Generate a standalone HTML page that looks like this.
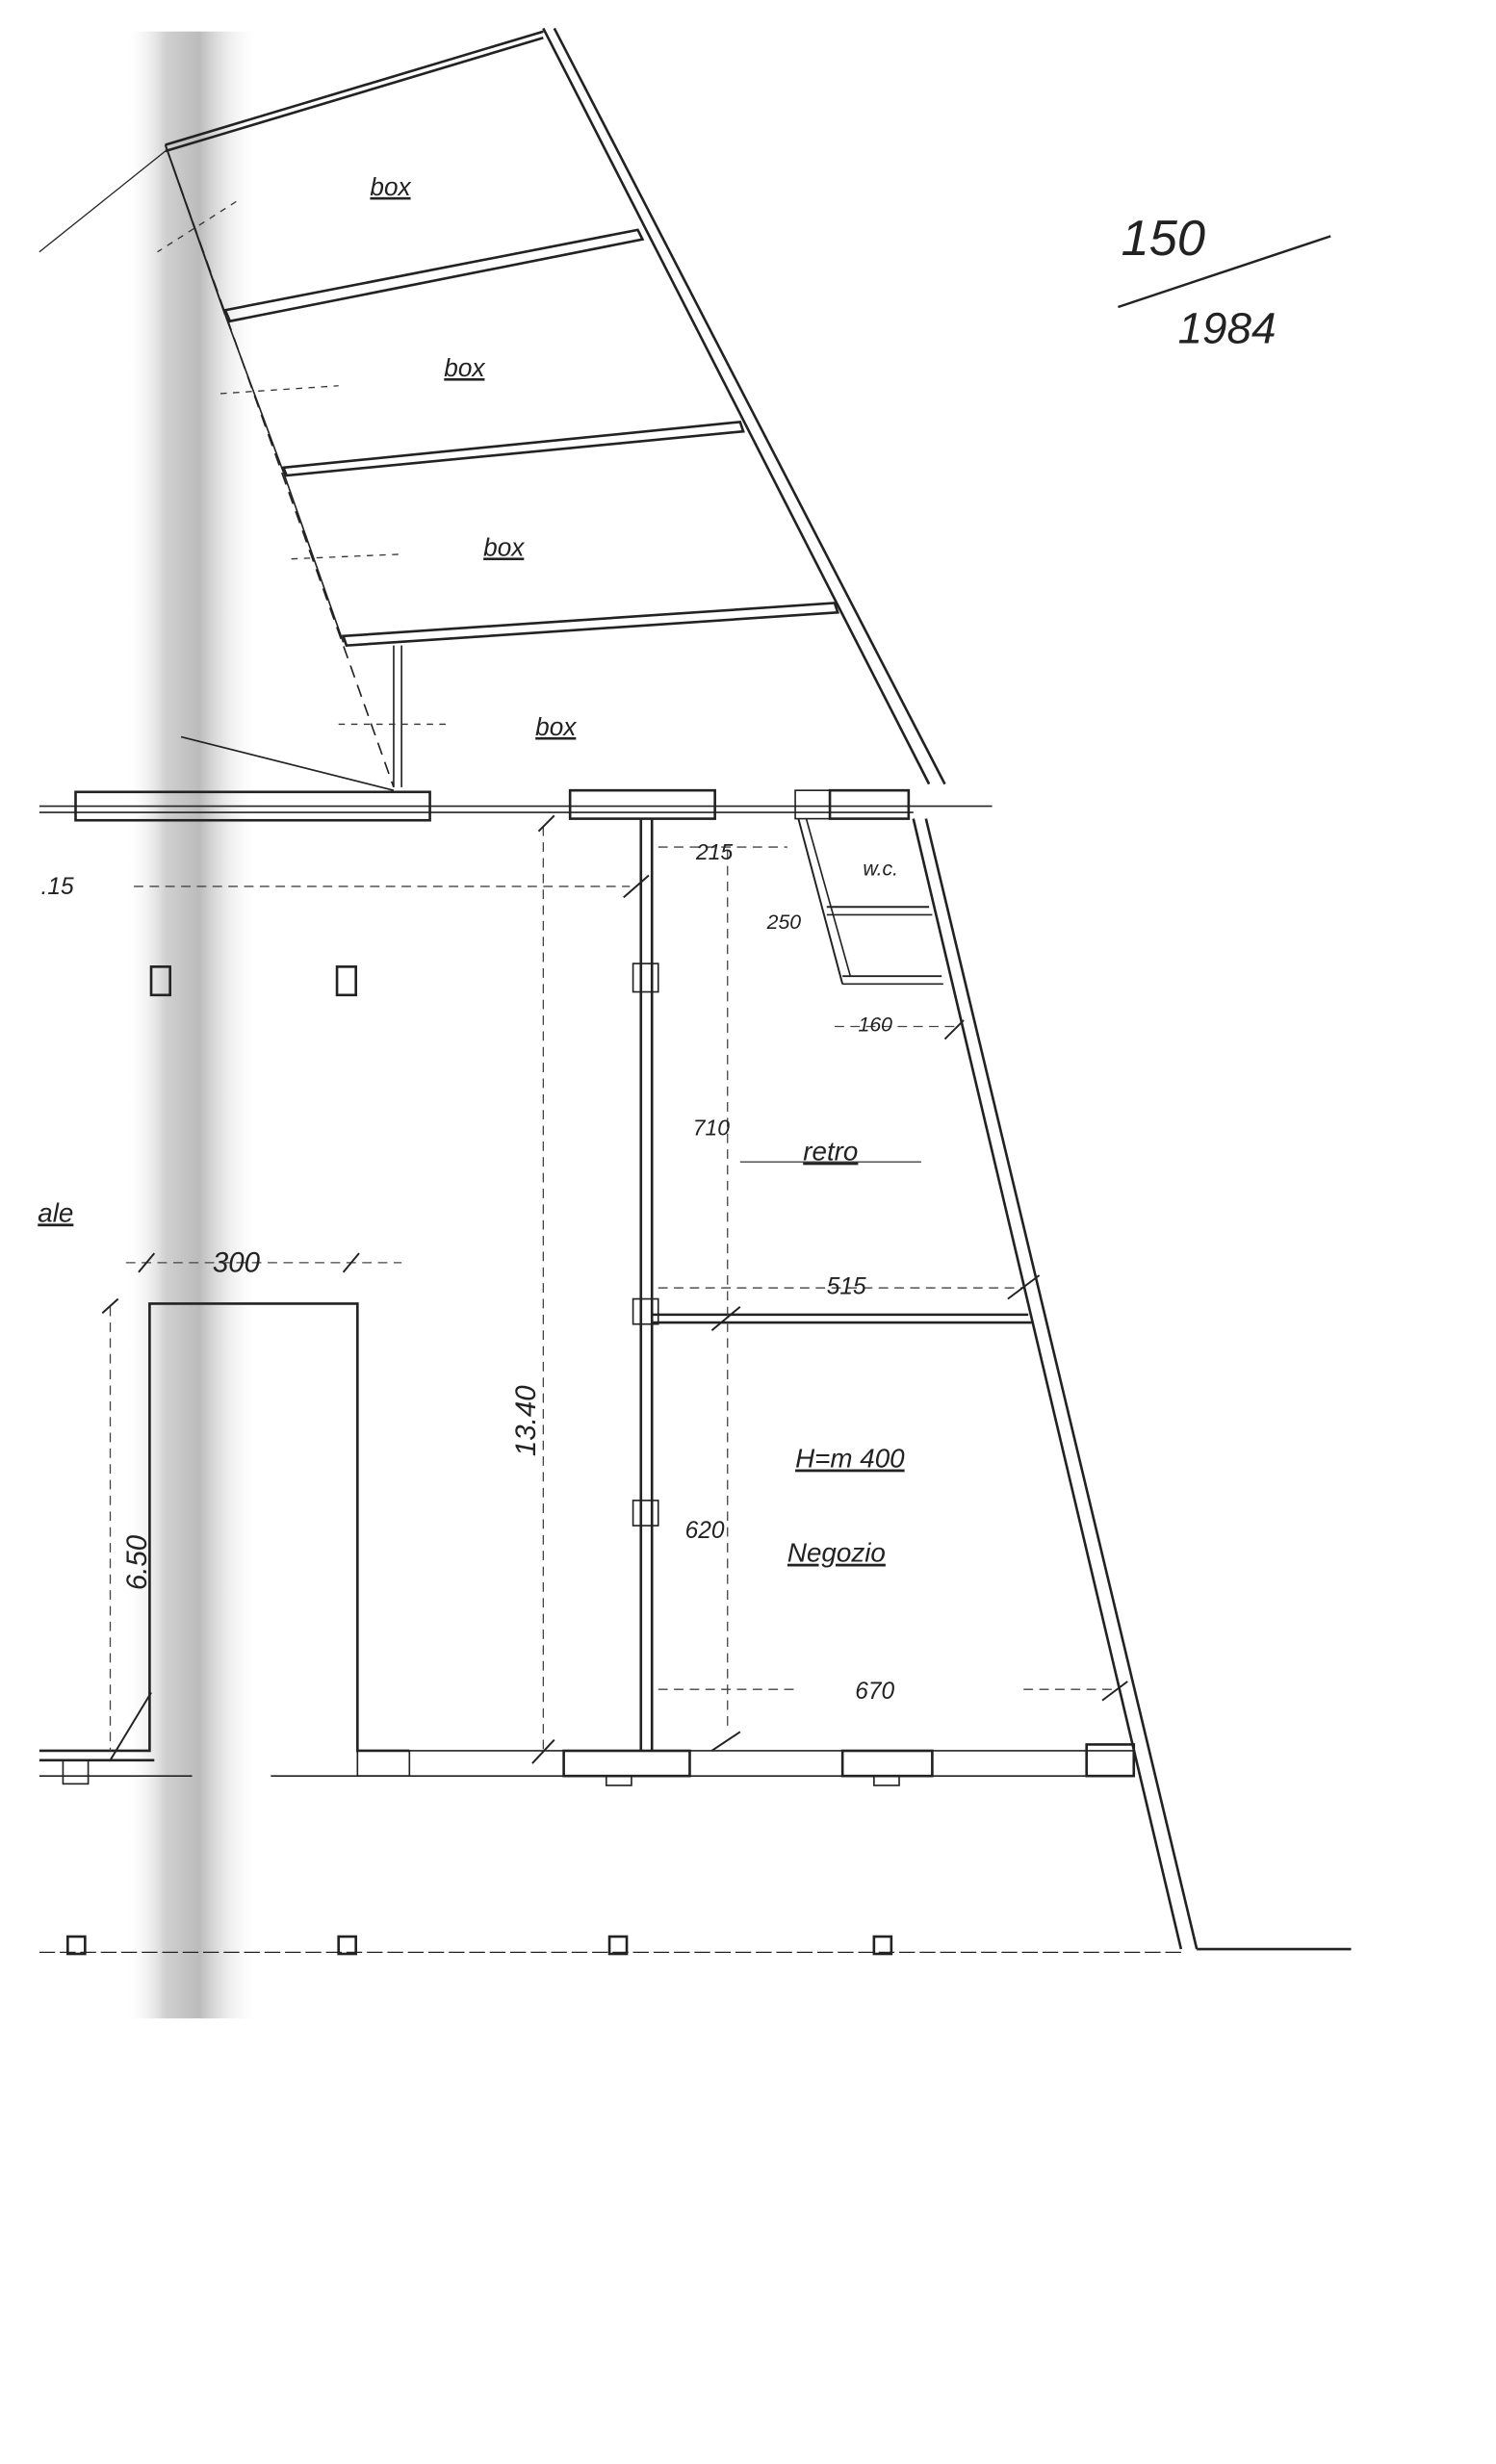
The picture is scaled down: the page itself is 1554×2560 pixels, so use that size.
<!DOCTYPE html>
<html><head><meta charset="utf-8"><style>
html,body{margin:0;padding:0;background:#fff;}
svg{display:block;}
text{font-family:"Liberation Sans",sans-serif;fill:#222;font-style:italic;}
</style></head><body>
<svg width="1554" height="2560" viewBox="0 0 950 1565" xmlns="http://www.w3.org/2000/svg">
<defs>
<linearGradient id="g" x1="0" x2="1" y1="0" y2="0">
<stop offset="0" stop-color="#fff" stop-opacity="0"/>
<stop offset="0.3" stop-color="#bbb" stop-opacity="0.7"/>
<stop offset="0.55" stop-color="#aaa" stop-opacity="0.8"/>
<stop offset="1" stop-color="#fff" stop-opacity="0"/>
</linearGradient>
</defs>
<rect x="0" y="0" width="950" height="1565" fill="#fff"/>
<rect x="80" y="20" width="85" height="1262" fill="url(#g)"/>
<g stroke="#222" fill="none" stroke-width="1.6">
<!-- boxes outer lines -->
<line x1="345" y1="18" x2="590" y2="498"/>
<line x1="352" y1="18" x2="600" y2="498"/>
<line x1="105" y1="92" x2="345" y2="20"/>
<line x1="105" y1="96" x2="345" y2="24"/>
<polygon points="143,197 405,146 408,152 146,204"/>
<polygon points="180,297 470,268 472,274 182,302"/>
<polygon points="218,404 530,383 532,389 220,410"/>
<line x1="105" y1="92" x2="143" y2="200" stroke-width="1.2"/>
<line x1="143" y1="200" x2="180" y2="300" stroke-width="1"/>
<line x1="180" y1="300" x2="218" y2="408" stroke-width="1"/>
<line x1="105" y1="92" x2="250" y2="500" stroke-dasharray="8,5" stroke-width="1"/>
<line x1="250" y1="410" x2="250" y2="500" stroke-width="1"/>
<line x1="255" y1="410" x2="255" y2="500" stroke-width="1"/>
<line x1="115" y1="468" x2="250" y2="502" stroke-width="1"/>
<line x1="25" y1="160" x2="105" y2="96" stroke-width="0.8"/>
<!-- top wall -->
<line x1="25" y1="512" x2="630" y2="512" stroke-width="1"/>
<line x1="25" y1="516" x2="580" y2="516" stroke-width="1"/>
<rect x="48" y="503" width="225" height="18"/>
<rect x="362" y="502" width="92" height="18"/>
<rect x="527" y="502" width="50" height="18"/>
<rect x="505" y="502" width="22" height="18" stroke-width="1"/>
<!-- middle vertical wall -->
<line x1="407" y1="520" x2="407" y2="1112"/>
<line x1="414" y1="520" x2="414" y2="1112"/>
<rect x="402" y="612" width="16" height="18" stroke-width="1"/>
<rect x="402" y="825" width="16" height="16" stroke-width="1"/>
<rect x="402" y="953" width="16" height="16" stroke-width="1"/>
<!-- right slanted wall -->
<line x1="580" y1="520" x2="750" y2="1238"/>
<line x1="588" y1="520" x2="760" y2="1238"/>
<line x1="760" y1="1238" x2="858" y2="1238"/>
<!-- wc -->
<line x1="507" y1="520" x2="535" y2="625" stroke-width="1.2"/>
<line x1="512" y1="520" x2="540" y2="620" stroke-width="1"/>
<line x1="525" y1="576" x2="590" y2="576" stroke-width="1.2"/>
<line x1="525" y1="581" x2="592" y2="581" stroke-width="1"/>
<line x1="535" y1="620" x2="598" y2="620" stroke-width="1.2"/>
<line x1="535" y1="625" x2="599" y2="625" stroke-width="1"/>
<!-- partition 515 -->
<line x1="414" y1="835" x2="653" y2="835"/>
<line x1="414" y1="840" x2="655" y2="840"/>
<!-- left room -->
<polyline points="25,1112 95,1112 95,828 227,828 227,1112 260,1112"/>
<polyline points="25,1118 98,1118"/>
<!-- bottom wall -->
<line x1="260" y1="1112" x2="720" y2="1112" stroke-width="1"/>
<line x1="25" y1="1128" x2="122" y2="1128" stroke-width="1"/>
<line x1="172" y1="1128" x2="720" y2="1128" stroke-width="1"/>
<rect x="227" y="1112" width="33" height="16" stroke-width="1"/>
<rect x="358" y="1112" width="80" height="16"/>
<rect x="535" y="1112" width="57" height="16"/>
<rect x="690" y="1108" width="30" height="20"/>
<rect x="40" y="1118" width="16" height="15" stroke-width="1"/>
<rect x="385" y="1128" width="16" height="6" stroke-width="1"/>
<rect x="555" y="1128" width="16" height="6" stroke-width="1"/>
<!-- columns -->
<rect x="96" y="614" width="12" height="18"/>
<rect x="214" y="614" width="12" height="18"/>
<rect x="43" y="1230" width="11" height="11"/>
<rect x="215" y="1230" width="11" height="11"/>
<rect x="387" y="1230" width="11" height="11"/>
<rect x="555" y="1230" width="11" height="11"/>
<line x1="25" y1="1240" x2="750" y2="1240" stroke-width="0.8" stroke-dasharray="10,3"/>
</g>
<!-- dimension lines -->
<g stroke="#444" fill="none" stroke-width="0.8" stroke-dasharray="6,4">
<line x1="85" y1="563" x2="400" y2="563"/>
<line x1="345" y1="525" x2="345" y2="1112"/>
<line x1="418" y1="538" x2="500" y2="538"/>
<line x1="462" y1="540" x2="462" y2="1100"/>
<line x1="418" y1="818" x2="650" y2="818"/>
<line x1="418" y1="1073" x2="505" y2="1073"/>
<line x1="650" y1="1073" x2="710" y2="1073"/>
<line x1="80" y1="802" x2="255" y2="802"/>
<line x1="70" y1="830" x2="70" y2="1112"/>
<line x1="530" y1="652" x2="610" y2="652"/>
<line x1="470" y1="738" x2="585" y2="738" stroke-dasharray="none"/>
</g>
<g stroke="#222" stroke-width="1.2">
<line x1="396" y1="570" x2="412" y2="556"/>
<line x1="338" y1="1120" x2="352" y2="1105"/>
<line x1="342" y1="528" x2="352" y2="518"/>
<line x1="88" y1="808" x2="98" y2="796"/>
<line x1="218" y1="808" x2="228" y2="796"/>
<line x1="65" y1="834" x2="75" y2="825"/>
<line x1="70" y1="1118" x2="96" y2="1075"/>
<line x1="452" y1="845" x2="470" y2="830"/>
<line x1="452" y1="1112" x2="470" y2="1100"/>
<line x1="640" y1="825" x2="660" y2="810"/>
<line x1="700" y1="1080" x2="716" y2="1068"/>
<line x1="600" y1="660" x2="612" y2="648"/>
</g>
<g stroke="#333" stroke-width="0.8" stroke-dasharray="4,4">
<line x1="150" y1="128" x2="100" y2="160"/><line x1="140" y1="250" x2="215" y2="245"/>
<line x1="185" y1="355" x2="255" y2="352"/><line x1="215" y1="460" x2="285" y2="460"/>
</g>
<text x="235" y="124" font-size="16" font-style="normal" text-decoration="underline">box</text>
<text x="282" y="239" font-size="16" font-style="normal" text-decoration="underline">box</text>
<text x="307" y="353" font-size="16" font-style="normal" text-decoration="underline">box</text>
<text x="340" y="467" font-size="16" font-style="normal" text-decoration="underline">box</text>
<text x="712" y="162" font-size="32">150</text>
<line x1="710" y1="195" x2="845" y2="150" stroke="#222" stroke-width="1.5"/>
<text x="748" y="218" font-size="28" fill="#555">1984</text>
<text x="26" y="568" font-size="15">.15</text>
<text x="24" y="776" font-size="17" text-decoration="underline">ale</text>
<text x="135" y="808" font-size="18">300</text>
<text x="442" y="546" font-size="14">215</text>
<text x="548" y="556" font-size="13">w.c.</text>
<text x="487" y="590" font-size="13">250</text>
<text x="545" y="655" font-size="13">160</text>
<text x="440" y="721" font-size="14">710</text>
<text x="510" y="737" font-size="17" text-decoration="underline">retro</text>
<text x="525" y="822" font-size="15">515</text>
<text x="505" y="932" font-size="17" text-decoration="underline">H=m 400</text>
<text x="435" y="977" font-size="15">620</text>
<text x="500" y="992" font-size="17" text-decoration="underline">Negozio</text>
<text x="543" y="1079" font-size="15">670</text>
<text transform="translate(93,1010) rotate(-90)" font-size="18">6.50</text>
<text transform="translate(340,925) rotate(-90)" font-size="18">13.40</text>
</svg>
</body></html>
